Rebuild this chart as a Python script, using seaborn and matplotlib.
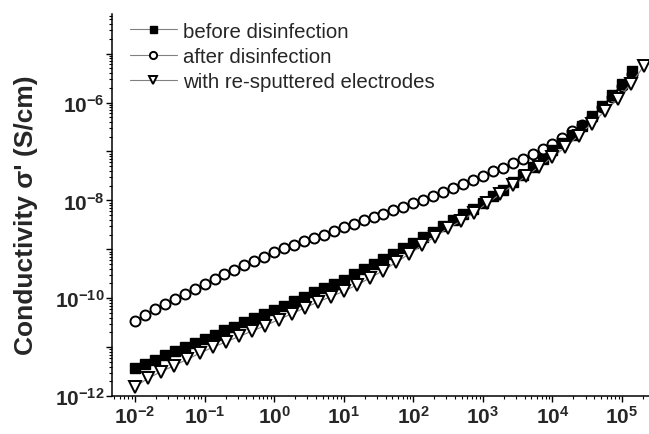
import numpy as np
import matplotlib
matplotlib.use('Agg')
import matplotlib.pyplot as plt
from matplotlib.ticker import FixedLocator, LogLocator, FuncFormatter, NullFormatter
import seaborn as sns

# frequency sweep (Hz) for the two measurements taken with 7 points/decade
freq = [0.01, 0.01389, 0.01931, 0.02683, 0.03728, 0.05179, 0.07197,
        0.1, 0.1389, 0.1931, 0.2683, 0.3728, 0.5179, 0.7197,
        1, 1.389, 1.931, 2.683, 3.728, 5.179, 7.197,
        10, 13.89, 19.31, 26.83, 37.28, 51.79, 71.97,
        100, 138.9, 193.1, 268.3, 372.8, 517.9, 719.7,
        1000, 1389, 1931, 2683, 3728, 5179, 7197,
        1e4, 1.389e4, 1.931e4, 2.683e4, 3.728e4, 5.179e4, 7.197e4,
        1e5, 1.389e5]

# log10 of sigma' (S/cm)
before_log = [-11.43, -11.34, -11.26, -11.17, -11.09, -11.00, -10.92,
              -10.83, -10.75, -10.66, -10.58, -10.49, -10.41, -10.32,
              -10.24, -10.15, -10.06, -9.97, -9.88, -9.80, -9.71,
              -9.62, -9.51, -9.40, -9.30, -9.19, -9.09, -8.98,
              -8.87, -8.75, -8.64, -8.52, -8.40, -8.28, -8.17,
              -8.05, -7.92, -7.78, -7.63, -7.48, -7.32, -7.15,
              -6.98, -6.82, -6.66, -6.47, -6.28, -6.07, -5.84,
              -5.62, -5.36]

after_log = [-10.46, -10.34, -10.22, -10.12, -10.02, -9.92, -9.81,
             -9.71, -9.61, -9.51, -9.42, -9.33, -9.23, -9.15,
             -9.06, -8.98, -8.91, -8.84, -8.77, -8.70, -8.63,
             -8.55, -8.48, -8.41, -8.34, -8.27, -8.20, -8.13,
             -8.06, -7.99, -7.91, -7.83, -7.75, -7.67, -7.58,
             -7.50, -7.41, -7.33, -7.24, -7.15, -7.05, -6.95,
             -6.85, -6.72, -6.58, -6.45, -6.29, -6.10, -5.89,
             -5.66, -5.42]

# re-sputtered electrodes were measured on a coarser grid
freq_resp = [0.01, 0.0154, 0.02371, 0.03652, 0.05623, 0.0866, 0.1334, 0.2054,
             0.3162, 0.487, 0.7499, 1.155, 1.778, 2.738, 4.217, 6.494,
             10, 15.4, 23.71, 36.52, 56.23, 86.6, 133.4, 205.4,
             316.2, 487, 749.9, 1155, 1778, 2738, 4217, 6494,
             1e4, 1.54e4, 2.371e4, 3.652e4, 5.623e4, 8.66e4, 1.334e5, 2.054e5]

resp_log = [-11.81, -11.64, -11.50, -11.38, -11.25, -11.12, -11.00, -10.89,
            -10.78, -10.67, -10.56, -10.44, -10.32, -10.20, -10.08, -9.97,
            -9.86, -9.73, -9.59, -9.44, -9.27, -9.10, -8.92, -8.74,
            -8.57, -8.42, -8.25, -8.06, -7.87, -7.69, -7.50, -7.31,
            -7.12, -6.91, -6.68, -6.43, -6.18, -5.93, -5.62, -5.26]

labels = ['before disinfection', 'after disinfection', 'with re-sputtered electrodes']
xticks = [1e-2, 1e-1, 1e0, 1e1, 1e2, 1e3, 1e4, 1e5]
yticks = [1e-12, 1e-11, 1e-10, 1e-9, 1e-8, 1e-7, 1e-6, 1e-5]

sns.set_style('ticks')
plt.rcParams['font.family'] = ['Liberation Sans', 'DejaVu Sans']
plt.rcParams['mathtext.fontset'] = 'custom'
plt.rcParams['mathtext.rm'] = 'Liberation Sans:bold'
plt.rcParams['mathtext.bf'] = 'Liberation Sans:bold'
plt.rcParams['mathtext.it'] = 'Liberation Sans:bold'
plt.rcParams['axes.unicode_minus'] = False

fig = plt.figure(figsize=(6.49, 4.35), dpi=100)
ax = fig.add_axes([112 / 649, 38 / 435, 537 / 649, 382 / 435])
ax.set_xscale('log')
ax.set_yscale('log')

common = dict(color='#808080', lw=0.8, markeredgecolor='black', estimator=None, sort=False, ax=ax)
sns.lineplot(x=freq, y=10.0 ** np.array(after_log), marker='o', markersize=7.2,
             markerfacecolor='white', markeredgewidth=1.4, label=labels[1], zorder=2, **common)
sns.lineplot(x=freq, y=10.0 ** np.array(before_log), marker='s', markersize=7,
             markerfacecolor='black', markeredgewidth=1.0, label=labels[0], zorder=3, **common)
sns.lineplot(x=freq_resp, y=10.0 ** np.array(resp_log), marker='v', markersize=8,
             markerfacecolor='white', markeredgewidth=1.4, label=labels[2], zorder=4, **common)

ax.set_xlim(10 ** -2.331, 10 ** 5.388)
ax.set_ylim(1e-12, 10 ** -4.19)

ax.xaxis.set_major_locator(FixedLocator(xticks))
ax.xaxis.set_minor_locator(LogLocator(base=10, subs=np.arange(2, 10), numticks=50))
ax.yaxis.set_major_locator(FixedLocator(yticks))
ax.yaxis.set_minor_locator(LogLocator(base=10, subs=np.arange(2, 10), numticks=50))
ax.xaxis.set_minor_formatter(NullFormatter())
ax.yaxis.set_minor_formatter(NullFormatter())


def dec_label(v, pos):
    e = int(round(np.log10(v)))
    return r'$\mathbf{10^{%d}}$' % e


def even_label(v, pos):
    e = int(round(np.log10(v)))
    if e % 2:
        return ''
    return r'$\mathbf{10^{%d}}$' % e


ax.xaxis.set_major_formatter(FuncFormatter(dec_label))
ax.yaxis.set_major_formatter(FuncFormatter(even_label))

ax.tick_params(which='major', direction='out', length=4.5, width=1.0, labelsize=15, pad=2, color='black')
ax.tick_params(axis='y', which='major', pad=1)
ax.tick_params(which='minor', direction='out', length=2.3, width=0.8, color='black')
sns.despine(ax=ax)
for s in ['left', 'bottom']:
    ax.spines[s].set_linewidth(1.1)
    ax.spines[s].set_color('black')

ax.set_ylabel("Conductivity σ' (S/cm)", fontsize=19, fontweight='bold')
ax.yaxis.set_label_coords(-0.138, 0.476)

# legend order as in the original
handles, labs = ax.get_legend_handles_labels()
order = [labs.index(l) for l in labels]
ax.legend([handles[i] for i in order], [labs[i] for i in order],
          loc='upper left', bbox_to_anchor=(0.033, 0.98), frameon=False,
          fontsize=14.7, handlelength=2.3, handletextpad=0.33, labelspacing=0.3,
          markerscale=0.72, borderaxespad=0, borderpad=0)

fig.savefig('out.png', dpi=100)
